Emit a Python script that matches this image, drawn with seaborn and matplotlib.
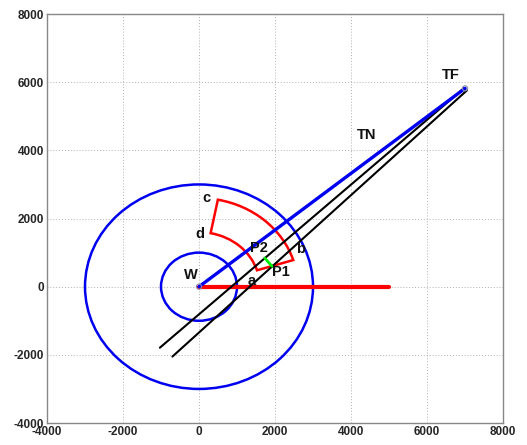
import matplotlib
matplotlib.use("Agg")
import matplotlib.pyplot as plt
from matplotlib.patches import Circle, Wedge
import seaborn as sns
import pandas as pd

# workspace geometry (mm)
circle_radii = [1000, 3000]
wedge_radii = [1600, 2600]          # inner, outer
wedge_angles = [17.5, 79.0]         # degrees

reach_x = [0, 7000]                 # W -> TF
reach_y = [0, 5820]
base_x = [0, 5000]
base_y = [0, 0]
track1_x = [-1030, 6980]
track1_y = [-1790, 5830]
track2_x = [-700, 7050]
track2_y = [-2050, 5760]
gap_x = [1730, 1920]
gap_y = [840, 600]

point_x = [0, 7000]
point_y = [0, 5820]

label_text = ["W", "a", "P1", "P2", "b", "c", "d", "TF", "TN"]
label_x = [-210, 1395, 2150, 1590, 2660, 200, 30, 6620, 4400]
label_y = [350, 180, 440, 1130, 1100, 2600, 1550, 6220, 4450]

xticks = [-4000, -2000, 0, 2000, 4000, 6000, 8000]
yticks = [-4000, -2000, 0, 2000, 4000, 6000, 8000]

sns.set_style("white")
plt.rcParams["font.family"] = ["Liberation Sans", "DejaVu Sans"]

fig = plt.figure(figsize=(5.27, 4.45), dpi=100)
ax = fig.add_axes([0.0892, 0.0494, 0.8653, 0.919])

for r in circle_radii:
    ax.add_patch(Circle((0, 0), r, fill=False, edgecolor="#0000f0", lw=1.8, zorder=2))

ax.add_patch(Wedge((0, 0), wedge_radii[1], wedge_angles[0], wedge_angles[1],
                   width=wedge_radii[1] - wedge_radii[0], fill=False,
                   edgecolor="#ff0000", lw=1.8, zorder=3))

def seg(xs, ys, color, lw, z):
    df = pd.DataFrame({"x": xs, "y": ys})
    sns.lineplot(data=df, x="x", y="y", sort=False, estimator=None,
                 color=color, lw=lw, ax=ax, zorder=z)

seg(base_x, base_y, "#ff0000", 3.0, 3)
seg(track1_x, track1_y, "black", 1.5, 4)
seg(track2_x, track2_y, "black", 1.5, 4)
seg(reach_x, reach_y, "#0000f0", 2.4, 5)
seg(gap_x, gap_y, "#00ee00", 2.0, 6)

sns.scatterplot(x=point_x, y=point_y, ax=ax, marker="o", s=14,
                facecolor="none", edgecolor="#8888aa", linewidth=0.8, zorder=7)

for t, x, y in zip(label_text, label_x, label_y):
    ax.text(x, y, t, ha="center", va="center", fontsize=10.5,
            fontweight="bold", color="#111111", zorder=8)

ax.set_xlim(-4000, 8000)
ax.set_ylim(-4000, 8000)
ax.set_xticks(xticks)
ax.set_yticks(yticks)
ax.set_xticklabels([str(v) for v in xticks])
ax.set_yticklabels([str(v) for v in yticks])
ax.set_xlabel("")
ax.set_ylabel("")
ax.grid(True, linestyle=(0, (1, 2)), color="#b0b0b0", lw=0.7)
ax.tick_params(direction="in", length=3, width=0.8, color="#777777",
               labelsize=8.5, pad=2)
for lab in ax.get_xticklabels() + ax.get_yticklabels():
    lab.set_fontweight("bold")
for sp in ax.spines.values():
    sp.set_color("#888888")
    sp.set_linewidth(1.0)

fig.savefig("out.png", dpi=100)
